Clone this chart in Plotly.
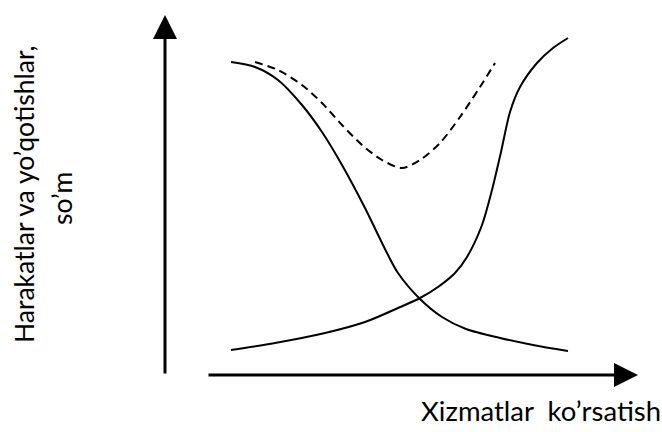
import plotly.graph_objects as go

# Data (abstract units: origin at the axes corner)
cost_down_x = [66, 90, 113, 137, 157, 177, 200, 222, 233, 255, 277, 301, 335, 368, 403]
cost_down_y = [313, 308, 295, 270, 243, 210, 167, 122, 102, 76, 58, 46, 37, 30, 24]

cost_up_x = [66, 110, 160, 200, 233, 255, 273, 290, 302, 317, 327, 336, 345, 355, 372, 388, 403]
cost_up_y = [25, 32, 42, 53, 67, 77, 88, 102, 118, 150, 185, 223, 263, 288, 312, 327, 337]

total_x = [90, 113, 137, 157, 177, 197, 217, 237, 255, 275, 295, 315, 330]
total_y = [313, 305, 290, 272, 250, 230, 215, 207, 215, 232, 258, 288, 312]

x_axis_start = 42
x_axis_end = 473
y_axis_top = 360

fig = go.Figure()

line_style = dict(color="black", width=2, shape="spline", smoothing=0.8)
fig.add_trace(go.Scatter(x=cost_down_x, y=cost_down_y, mode="lines", line=line_style, hoverinfo="skip"))
fig.add_trace(go.Scatter(x=cost_up_x, y=cost_up_y, mode="lines", line=line_style, hoverinfo="skip"))
fig.add_trace(go.Scatter(x=total_x, y=total_y, mode="lines",
                         line=dict(line_style, dash="8px,5px"), hoverinfo="skip"))

# axis arrows
fig.add_annotation(x=0, y=y_axis_top, ax=0, ay=0, xref="x", yref="y", axref="x", ayref="y",
                   showarrow=True, arrowhead=2, arrowsize=1.6, arrowwidth=3, arrowcolor="black", text="")
fig.add_annotation(x=x_axis_end, y=0, ax=x_axis_start, ay=0, xref="x", yref="y", axref="x", ayref="y",
                   showarrow=True, arrowhead=2, arrowsize=1.6, arrowwidth=3, arrowcolor="black", text="")

font_y = dict(family="Lato, Open Sans, sans-serif", size=26.5, color="black")
font_x = dict(family="Lato, Open Sans, sans-serif", size=27.5, color="black")
fig.add_annotation(text="Harakatlar va yo’qotishlar,", x=-141, y=181, xref="x", yref="y",
                   showarrow=False, textangle=-90, font=font_y, xanchor="center", yanchor="middle")
fig.add_annotation(text="so’m", x=-103, y=176, xref="x", yref="y",
                   showarrow=False, textangle=-90, font=font_y, xanchor="center", yanchor="middle")
fig.add_annotation(text="Xizmatlar  ko’rsatish", x=1, y=-35, xref="paper", yref="y", xshift=1,
                   showarrow=False, font=font_x, xanchor="right", yanchor="middle")

fig.update_layout(
    width=662, height=432,
    margin=dict(l=0, r=0, t=0, b=0),
    paper_bgcolor="white", plot_bgcolor="white",
    showlegend=False,
    xaxis=dict(range=[-165, 497], visible=False, fixedrange=True),
    yaxis=dict(range=[-57, 375], visible=False, fixedrange=True),
)

fig.write_html("out.html", config={"displayModeBar": False},
               post_script="document.body.style.margin='0';document.body.style.overflow='hidden';")
